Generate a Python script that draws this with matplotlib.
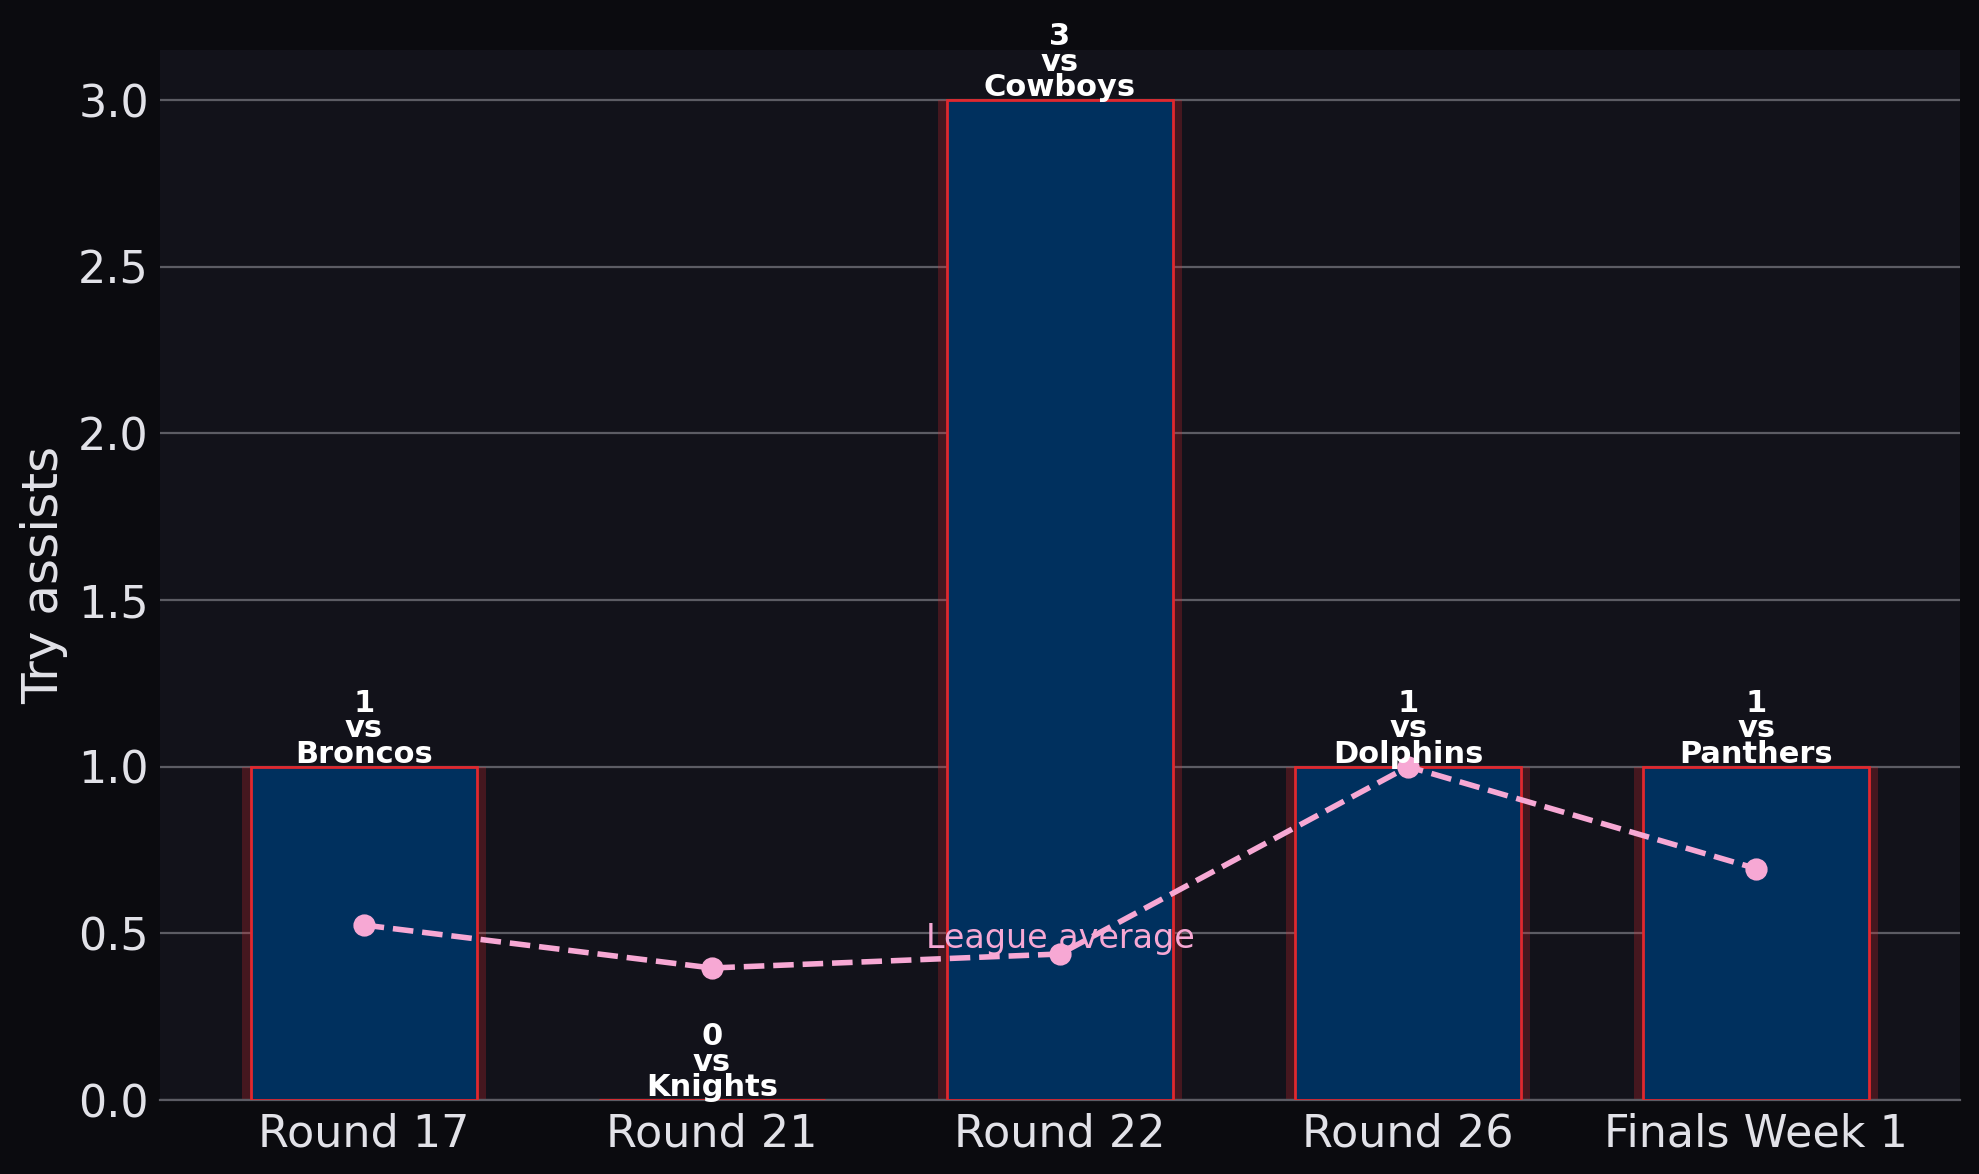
import matplotlib
matplotlib.use("Agg")
import matplotlib.pyplot as plt

rounds = ["Round 17", "Round 21", "Round 22", "Round 26", "Finals Week 1"]
try_assists = [1, 0, 3, 1, 1]
opponents = ["Broncos", "Knights", "Cowboys", "Dolphins", "Panthers"]
league_avg = [0.525, 0.396, 0.438, 1.0, 0.694]

FIG_BG = "#0b0b0f"
AX_BG = "#12121a"
BAR = "#00305e"
EDGE = "#e0282e"
PINK = "#f7a8d4"
TXT = "#e2e2e8"
GRID = "#5c5c64"

fig = plt.figure(figsize=(9.895, 5.87), dpi=200, facecolor=FIG_BG)
ax = fig.add_axes([160/1979, 1-1100/1174, 1800/1979, 1050/1174])
ax.set_facecolor(AX_BG)

x = list(range(len(rounds)))
ax.bar(x, try_assists, width=0.7, color=EDGE, alpha=0.25, linewidth=0, zorder=2)
ax.bar(x, try_assists, width=0.65, color=BAR, edgecolor=EDGE, linewidth=1.0, zorder=3)

ax.plot(x, league_avg, linestyle="--", color=PINK, linewidth=2, marker="o",
        markersize=7, zorder=4)

for xi, v, opp in zip(x, try_assists, opponents):
    ax.annotate(f"{v}\nvs\n{opp}", (xi, v), xytext=(0, -0.8), textcoords="offset points",
                ha="center", va="bottom", color="white", fontsize=11,
                fontweight="bold", linespacing=0.85, zorder=5, annotation_clip=False)

ax.annotate("League average", (2, league_avg[2]), xytext=(0, -0.5), textcoords="offset points",
            ha="center", va="bottom", color=PINK, fontsize=12, zorder=5)

ax.set_ylim(0, 3.15)
ax.set_xticks(x)
ax.set_xticklabels(rounds)
ax.set_yticks([0, 0.5, 1.0, 1.5, 2.0, 2.5, 3.0])
ax.tick_params(axis="both", length=0, colors=TXT, labelsize=16)
ax.tick_params(axis="y", pad=4)
ax.tick_params(axis="x", pad=4.5)
ax.set_ylabel("Try assists", color=TXT, fontsize=18, labelpad=3.5)

ax.grid(axis="y", color=GRID, linewidth=0.8)
ax.set_axisbelow(True)
for s in ["top", "right", "left"]:
    ax.spines[s].set_visible(False)
ax.spines["bottom"].set_color(GRID)
ax.spines["bottom"].set_linewidth(0.8)

fig.savefig("out.png", dpi=200, facecolor=FIG_BG)
